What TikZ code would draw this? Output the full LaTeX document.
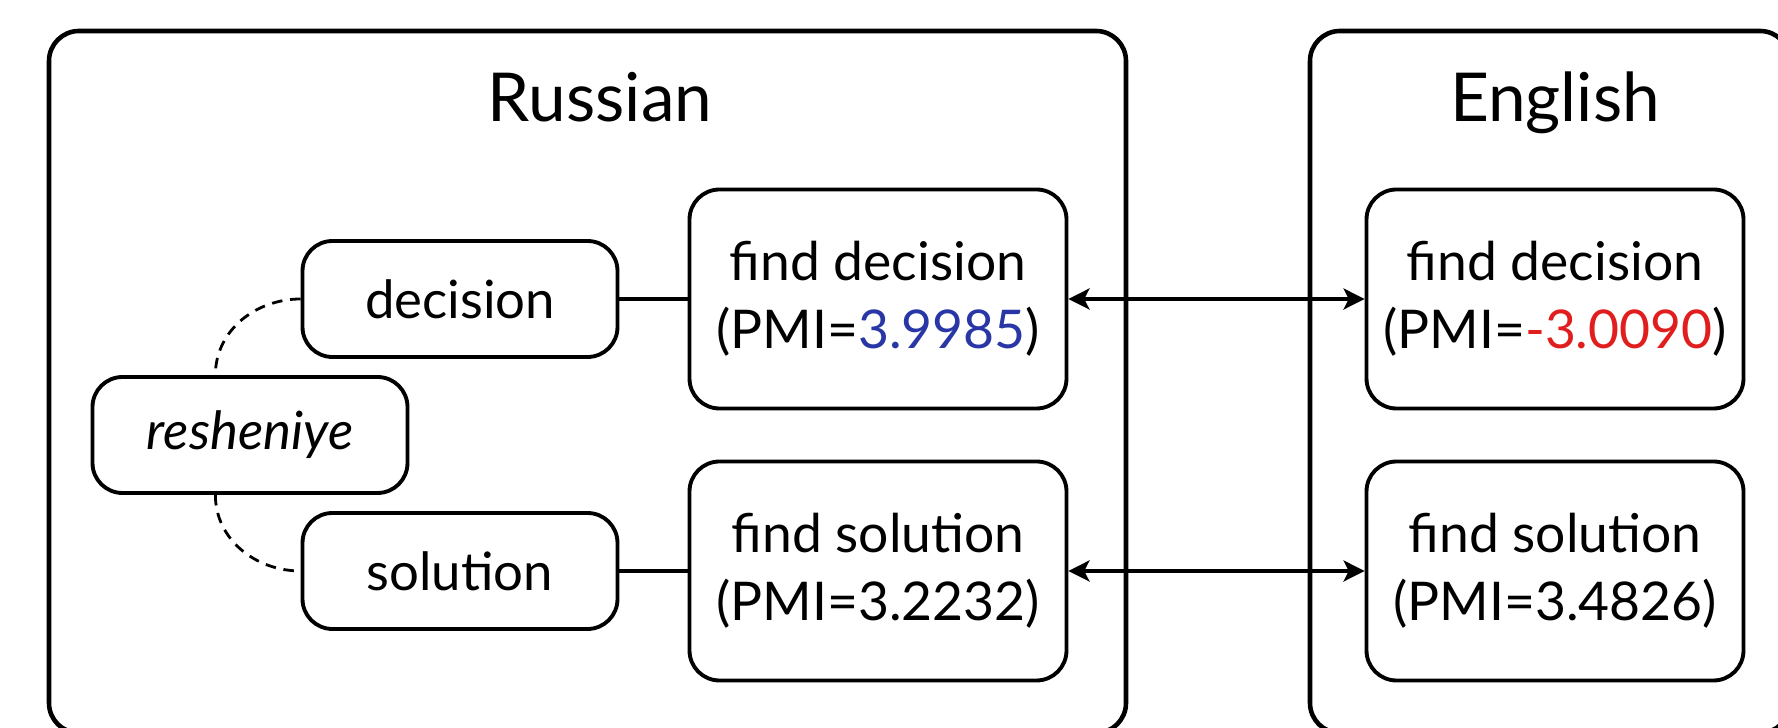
\documentclass[tikz,border=0pt]{standalone}
\usepackage{fontspec}
\setmainfont{Lato}
\usepackage{xcolor}
\usetikzlibrary{arrows.meta, positioning}
\definecolor{pmiblue}{RGB}{40,55,165}
\definecolor{pmired}{RGB}{225,30,30}

\begin{document}
\begin{tikzpicture}
    \tikzstyle{panel}=[draw, line width=1.3pt, rounded corners=0.3cm];
    \tikzstyle{title}=[font=\fontsize{19.2}{22}\selectfont, anchor=base];
    \tikzstyle{word}=[draw, line width=1.1pt, rounded corners=0.3cm, minimum width=3.15cm, minimum height=1.16cm, inner sep=0pt, font=\fontsize{15}{18}\selectfont];
    \tikzstyle{phrase}=[draw, line width=1.1pt, rounded corners=0.3cm, minimum width=3.77cm, minimum height=2.19cm, inner sep=0pt, align=center, font=\fontsize{15.2}{19.3}\selectfont];
    \tikzstyle{link}=[line width=0.9pt];
    \tikzstyle{sense}=[line width=0.8pt, dash pattern=on 3pt off 2.2pt];
    \tikzstyle{xlink}=[line width=0.9pt, {Stealth[length=6pt,width=6pt,inset=1.5pt]}-{Stealth[length=6pt,width=6pt,inset=1.5pt]}];

    \useasboundingbox (0,0) rectangle (17.78,7.28);

    % language panels
    \draw[panel] (0.49,-0.05) rectangle (11.26,6.97);
    \draw[panel] (13.10,-0.05) rectangle (17.90,6.97);
    \node[title] (rus) at (6.0,6.06) {Russian};
    \node[title] (eng) at (15.55,6.06) {English};

    % Russian side
    \node[word] (resh) at (2.50,2.93) {\itshape resheniye};
    \node[word] (dec) at (4.60,4.29) {decision};
    \node[word] (sol) at (4.60,1.57) {solution};
    \node[phrase] (rdec) at (8.78,4.29) {find decision\\(PMI=\textcolor{pmiblue}{3.9985})};
    \node[phrase] (rsol) at (8.78,1.57) {find solution\\(PMI=3.2232)};

    % English side
    \node[phrase] (edec) at (15.55,4.29) {find decision\\(PMI=\textcolor{pmired}{-3.0090})};
    \node[phrase] (esol) at (15.55,1.57) {find solution\\(PMI=3.4826)};

    % translations and alignments
    \draw[sense] (dec.west) to[out=180,in=90] (resh.120);
    \draw[sense] (resh.240) to[out=-90,in=180] (sol.west);
    \draw[link] (dec) -- (rdec);
    \draw[link] (sol) -- (rsol);
    \draw[xlink] (rdec) -- (edec);
    \draw[xlink] (rsol) -- (esol);
\end{tikzpicture}
\end{document}
